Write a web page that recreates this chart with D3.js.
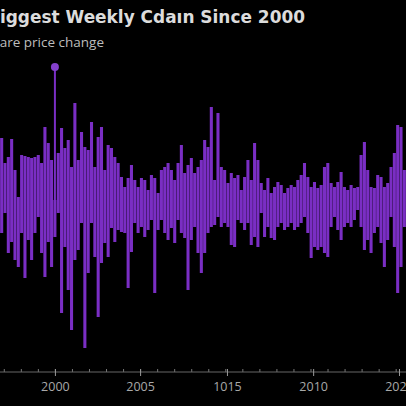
<!DOCTYPE html>
<html>
<head>
<meta charset="utf-8">
<script src="https://cdn.jsdelivr.net/npm/d3@7"></script>
<style>
  html, body { margin: 0; padding: 0; background: #000; overflow: hidden; }
  svg { display: block; }
</style>
</head>
<body>
<svg id="chart" width="406" height="406"></svg>
<script>
// Weekly share price change (%): biggest weekly gain and loss per period
const gains = [
  6.2,3.7,4.3,6.1,3.0,0.3,4.5,4.4,4.3,4.2,4.3,4.5,3.7,7.3,5.7,4.0,13.3,4.7,7.2,5.2,6.0,3.3,9.7,4.0,6.8,5.3,5.0,7.8,3.3,6.3,
  7.3,3.0,5.5,5.2,4.3,3.7,2.3,1.3,2.2,3.5,2.0,1.3,2.2,2.0,1.0,2.5,2.2,0.7,3.0,3.3,3.7,3.0,2.0,3.7,5.5,2.7,3.5,4.2,2.7,3.3,
  4.0,6.0,5.3,9.3,2.0,8.7,3.3,3.0,1.7,2.7,2.2,2.5,1.0,2.3,4.0,2.0,5.7,4.0,1.7,1.0,2.2,0.7,1.3,1.8,1.5,0.7,1.2,1.5,1.3,2.0,
  2.5,3.7,2.3,1.3,1.8,1.2,1.5,3.3,3.7,1.7,1.3,1.8,2.8,1.3,1.0,1.5,1.2,1.3,4.5,5.8,3.0,1.3,1.2,2.5,2.3,1.3,1.7,3.3,4.7,7.5,7.3,3.0
];
const losses = [
  -3.3,-1.3,-5.3,-4.2,-6.0,-6.7,-3.3,-7.8,-4.0,-6.0,-3.3,-1.7,-5.3,-7.7,-4.2,-6.7,-3.7,-1.3,-11.3,-4.7,-9.0,-13.0,-6.0,-5.0,-2.3,-14.8,-7.3,-2.3,-5.7,-11.7,
  -6.3,-4.3,-5.7,-2.8,-4.2,-3.0,-3.2,-3.3,-8.8,-5.2,-2.3,-3.3,-2.7,-3.7,-3.0,-2.0,-9.3,-3.0,-2.0,-3.3,-4.0,-2.8,-4.3,-2.0,-3.3,-3.8,-9.0,-4.0,-2.7,-5.3,
  -7.3,-5.3,-3.3,-2.7,-2.5,-1.7,-2.7,-2.3,-2.7,-4.5,-4.7,-2.0,-2.3,-3.0,-2.3,-4.5,-3.7,-4.7,-1.3,-3.7,-2.7,-3.8,-4.0,-2.7,-2.3,-3.0,-2.7,-2.3,-3.0,-2.7,
  -2.3,-1.7,-3.3,-5.8,-4.7,-5.0,-4.7,-5.3,-5.7,-2.7,-1.7,-3.0,-4.0,-2.7,-2.3,-2.7,-2.0,-1.0,-2.7,-5.0,-4.0,-5.3,-3.3,-2.7,-4.3,-6.7,-4.0,-1.7,-4.7,-9.3,-6.7,-2.7
];
const periods = d3.range(gains.length);
const tickPeriods = [16.5, 42.1, 68.2, 94.1, 119.9];
const tickLabels = ["2000", "2005", "1015", "2010", "2020"];
const highlightIndex = 16;
const titleText = "Biggest Weekly Cdaın Since 2000";
const subtitleText = "Share price change";

const W = 406, H = 406;
const svg = d3.select("#chart");
svg.append("rect").attr("width", W).attr("height", H).attr("fill", "#000");

const x = d3.scaleLinear().domain([0, periods.length]).range([0, W]);
const y = d3.scaleLinear().domain([-15, 15]).range([350, 50]);
const purple = "#7a2ec4";
const bw = x(1) - x(0);
const pad = 0.08 * bw;

const g = svg.append("g");
g.selectAll("rect.up").data(periods.filter(i => i !== highlightIndex)).join("rect")
  .attr("class", "up")
  .attr("x", i => x(i) + pad / 2)
  .attr("width", bw - pad)
  .attr("y", i => y(gains[i]))
  .attr("height", i => y(0) - y(gains[i]))
  .attr("fill", purple);
g.selectAll("rect.down").data(periods).join("rect")
  .attr("class", "down")
  .attr("x", i => x(i) + pad / 2)
  .attr("width", bw - pad)
  .attr("y", y(0))
  .attr("height", i => y(losses[i]) - y(0))
  .attr("fill", purple);

// highlighted spike: thin stem with dot
g.append("rect")
  .attr("x", x(highlightIndex + 0.5) - 1)
  .attr("width", 2)
  .attr("y", y(gains[highlightIndex]))
  .attr("height", y(0) - y(gains[highlightIndex]))
  .attr("fill", purple);
g.append("circle")
  .attr("cx", x(highlightIndex + 0.5))
  .attr("cy", y(gains[highlightIndex]))
  .attr("r", 4)
  .attr("fill", "#8440cc");

// Axis
const axisY = 372;
const minorStep = (tickPeriods[1] - tickPeriods[0]) / 5;
const minorTicks = d3.range(tickPeriods[0] - 3 * minorStep, periods.length + 1, minorStep);

const minorAxis = d3.axisBottom(x).tickValues(minorTicks).tickFormat("").tickSize(-3).tickSizeOuter(0);
const ma = svg.append("g").attr("transform", `translate(0,${axisY})`).call(minorAxis);
ma.select(".domain").remove();
ma.selectAll(".tick line").attr("stroke", "#777");

const majorAxis = d3.axisBottom(x).tickValues(tickPeriods)
  .tickFormat((d, i) => tickLabels[i]).tickSize(4).tickSizeOuter(0).tickPadding(6);
const axG = svg.append("g").attr("transform", `translate(0,${axisY})`).call(majorAxis);
axG.select(".domain").attr("stroke", "#666").attr("d", `M0,0H${W}`);
axG.selectAll(".tick line").attr("stroke", "#999").attr("y1", -3).attr("y2", 4);
axG.selectAll(".tick text")
  .attr("fill", "#a8a8a8")
  .attr("font-family", "'Open Sans', sans-serif")
  .attr("font-size", 12.5);

// Title & subtitle
svg.append("text")
  .attr("x", 305).attr("y", 23)
  .attr("text-anchor", "end")
  .attr("fill", "#dcdcdc")
  .attr("font-family", "'DejaVu Sans', sans-serif")
  .attr("font-weight", 700)
  .attr("font-size", 16.95)
  .text(titleText);
svg.append("text")
  .attr("x", 104).attr("y", 47)
  .attr("text-anchor", "end")
  .attr("fill", "#bdbdbd")
  .attr("font-family", "'Open Sans', sans-serif")
  .attr("font-size", 13.5)
  .text(subtitleText);
</script>
</body>
</html>
